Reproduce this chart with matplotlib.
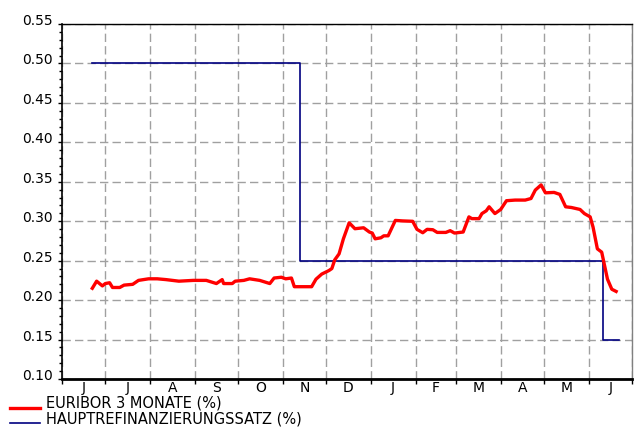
import matplotlib
matplotlib.use("Agg")
import matplotlib.pyplot as plt
import matplotlib.dates as mdates
import matplotlib.transforms as mtransforms
from matplotlib.legend_handler import HandlerLine2D
from matplotlib.lines import Line2D
import numpy as np
import datetime as dt

plt.rcParams['font.family'] = ['DejaVu Sans']

# EURIBOR 3 Monate (%)
euribor_dates = [
    "2013-06-22", "2013-06-25", "2013-06-29", "2013-07-01", "2013-07-04", "2013-07-06",
    "2013-07-11", "2013-07-14", "2013-07-20", "2013-07-24", "2013-07-31", "2013-08-06",
    "2013-08-12", "2013-08-21", "2013-08-31", "2013-09-09", "2013-09-16", "2013-09-20",
    "2013-09-21", "2013-09-27", "2013-09-29", "2013-10-05", "2013-10-09", "2013-10-16",
    "2013-10-23", "2013-10-26", "2013-10-31", "2013-11-03", "2013-11-07", "2013-11-09",
    "2013-11-21", "2013-11-24", "2013-11-28", "2013-12-03", "2013-12-05", "2013-12-07",
    "2013-12-10", "2013-12-13", "2013-12-17", "2013-12-21", "2013-12-27", "2013-12-31",
    "2014-01-02", "2014-01-04", "2014-01-08", "2014-01-10", "2014-01-13", "2014-01-18",
    "2014-01-23", "2014-01-30", "2014-02-02", "2014-02-06", "2014-02-09", "2014-02-13",
    "2014-02-16", "2014-02-22", "2014-02-25", "2014-02-28", "2014-03-06", "2014-03-10",
    "2014-03-12", "2014-03-17", "2014-03-19", "2014-03-22", "2014-03-24", "2014-03-28",
    "2014-04-01", "2014-04-05", "2014-04-11", "2014-04-18", "2014-04-22", "2014-04-25",
    "2014-04-29", "2014-05-02", "2014-05-08", "2014-05-12", "2014-05-16", "2014-05-20",
    "2014-05-26", "2014-05-29", "2014-06-02", "2014-06-04", "2014-06-07", "2014-06-10",
    "2014-06-12", "2014-06-14", "2014-06-17", "2014-06-20",
]
euribor_values = [
    0.215, 0.224, 0.218, 0.221, 0.222, 0.216,
    0.216, 0.219, 0.220, 0.225, 0.227, 0.227,
    0.226, 0.224, 0.225, 0.225, 0.221, 0.226,
    0.221, 0.221, 0.224, 0.225, 0.227, 0.225,
    0.221, 0.228, 0.229, 0.227, 0.228, 0.217,
    0.217, 0.2265, 0.233, 0.2375, 0.240, 0.251,
    0.2586, 0.2777, 0.298, 0.2905, 0.2917, 0.2863,
    0.285, 0.2777, 0.279, 0.2815, 0.2815, 0.301,
    0.3004, 0.2999, 0.2897, 0.2854, 0.2897, 0.2892,
    0.2858, 0.2858, 0.288, 0.285, 0.2863, 0.3055,
    0.3033, 0.3033, 0.3097, 0.3132, 0.3183, 0.3097,
    0.3149, 0.326, 0.3268, 0.3268, 0.3288, 0.3395,
    0.346, 0.336, 0.3365, 0.334, 0.3183, 0.3174,
    0.3149, 0.3097, 0.3055, 0.2926, 0.265, 0.2608,
    0.2437, 0.2266, 0.2138, 0.211,
]

# Hauptrefinanzierungssatz (%)
mro_dates = ["2013-06-22", "2013-11-13", "2014-06-11", "2014-06-22"]
mro_values = [0.50, 0.25, 0.15, 0.15]

month_labels = ["J", "J", "A", "S", "O", "N", "D", "J", "F", "M", "A", "M", "J"]


def to_dates(lst):
    return [dt.datetime.strptime(s, "%Y-%m-%d") for s in lst]


class LowHandler(HandlerLine2D):
    def create_artists(self, legend, orig_handle, xdescent, ydescent, width,
                       height, fontsize, trans):
        artists = super().create_artists(legend, orig_handle, xdescent, ydescent,
                                         width, height, fontsize, trans)
        for a in artists:
            if isinstance(a, Line2D):
                a.set_ydata(np.asarray(a.get_ydata()) - 3.5)
        return artists


fig = plt.figure(figsize=(6.34, 4.30), dpi=100)
ax = fig.add_axes([62/634, 1-379/430, (632-62)/634, (379-24)/430])

l1, = ax.plot(to_dates(euribor_dates), euribor_values, color="#ff0000", lw=2.4,
              solid_joinstyle="round", label="EURIBOR 3 MONATE (%)", zorder=4)
l2, = ax.plot(to_dates(mro_dates), mro_values, color="#000080", lw=1.2,
              drawstyle="steps-post", label="HAUPTREFINANZIERUNGSSATZ (%)", zorder=3)

ax.set_xlim(dt.datetime(2013, 6, 1), dt.datetime(2014, 6, 28))
ax.set_ylim(0.10, 0.55)

# y ticks
yt = np.arange(0.10, 0.551, 0.05)
ax.set_yticks(yt)
ax.set_yticklabels([f"{v:.2f}" for v in yt], fontsize=10)
ax.set_yticks(np.arange(0.10, 0.551, 0.01), minor=True)
ax.tick_params(axis='y', which='major', direction='out', length=3.2, width=1, pad=3.5)
ax.tick_params(axis='y', which='minor', direction='out', length=2.0, width=1)
off = mtransforms.ScaledTranslation(0, 4.5/100, fig.dpi_scale_trans)
for lab in ax.get_yticklabels():
    lab.set_transform(lab.get_transform() + off)

# x ticks: month starts (unlabelled) + mid-month labels
month_starts = [dt.datetime(2013 + (5 + i) // 12, (5 + i) % 12 + 1, 1) for i in range(14)]
mids = [month_starts[i] + (month_starts[i + 1] - month_starts[i]) / 2 for i in range(13)]
ax.set_xticks(month_starts)
ax.set_xticklabels([""] * len(month_starts))
ax.set_xticks(mids, minor=True)
ax.set_xticklabels(month_labels, minor=True, fontsize=10)
ax.tick_params(axis='x', which='major', direction='out', length=3.6, width=1)
ax.tick_params(axis='x', which='minor', length=0, pad=1.5)

# grid
ax.grid(True, which='major', color="#a0a0a0", linestyle=(0, (6, 3)), lw=1)
ax.set_axisbelow(True)

for side in ['left', 'bottom']:
    ax.spines[side].set_color('black')
ax.spines['left'].set_linewidth(1.2)
ax.spines['bottom'].set_linewidth(2.0)
ax.spines['top'].set_color('black')
ax.spines['top'].set_linewidth(1.0)
ax.spines['right'].set_color('#808080')
ax.spines['right'].set_linewidth(1.0)

fig.legend(handles=[l1, l2], loc='upper left', bbox_to_anchor=(10/634, 1-396/430),
           frameon=False, fontsize=10.5, handlelength=2.05, handletextpad=0.45,
           labelspacing=0.05, borderaxespad=0, borderpad=0,
           handler_map={Line2D: LowHandler()})

fig.savefig("out.png", dpi=100)
